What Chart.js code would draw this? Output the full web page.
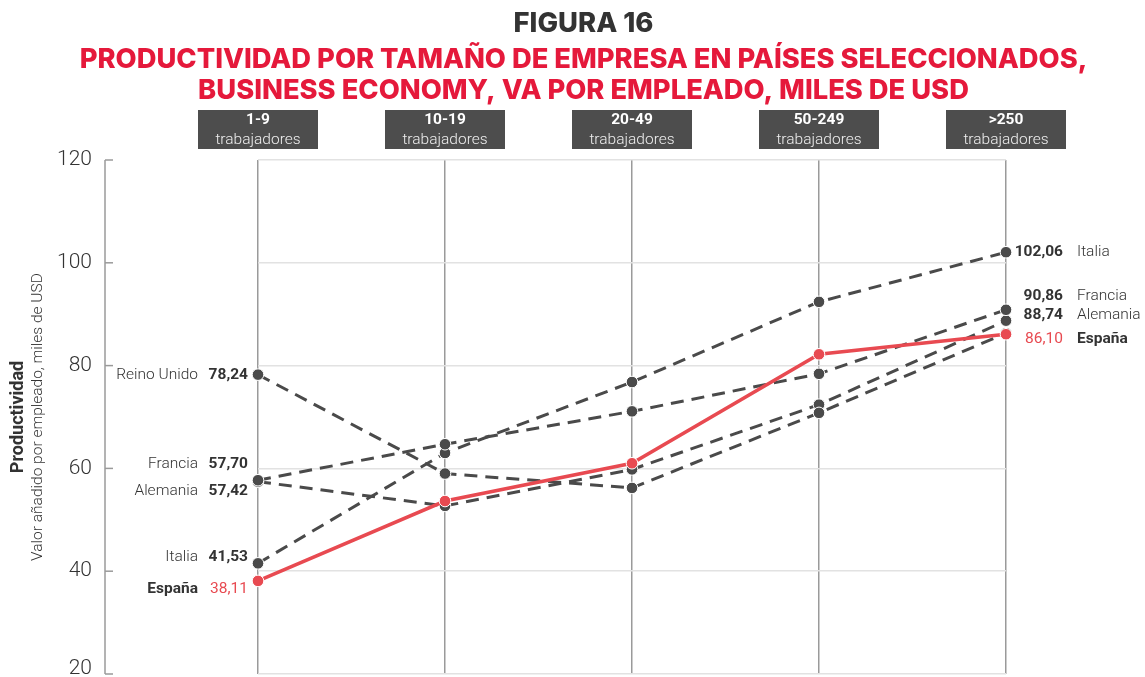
<!DOCTYPE html>
<html>
<head>
<meta charset="utf-8">
<script src="https://cdn.jsdelivr.net/npm/chart.js@4/dist/chart.umd.min.js"></script>
<style>
  html, body { margin: 0; padding: 0; background: #fff; }
  #wrap { width: 1145px; height: 677px; }
</style>
</head>
<body>
<div id="wrap"><canvas id="c" width="1145" height="677"></canvas></div>
<script>
// ---------- data ----------
const categories = ['1-9', '10-19', '20-49', '50-249', '>250'];
const categorySub = 'trabajadores';
const reinoUnido = [78.24, 59.0, 56.2, 70.8, 86.3];
const francia    = [57.70, 64.7, 71.1, 78.4, 90.86];
const alemania   = [57.42, 52.7, 59.8, 72.4, 88.74];
const italia     = [41.53, 63.0, 76.8, 92.4, 102.06];
const espana     = [38.11, 53.65, 61.0, 82.2, 86.10];
const yTicks     = [20, 40, 60, 80, 100, 120];
const titleText  = 'FIGURA 16';
const subtitleText = ['PRODUCTIVIDAD POR TAMAÑO DE EMPRESA EN PAÍSES SELECCIONADOS,',
                      'BUSINESS ECONOMY, VA POR EMPLEADO, MILES DE USD'];
const yTitle = 'Productividad';
const ySubtitle = 'Valor añadido por empleado, miles de USD';

// ---------- styles ----------
const GRAY = '#4a4a4a';
const RED = '#e84a51';
const TITLE_RED = '#e5193b';
const TEXT = '#333333';
const LIGHT = 'Roboto, "Liberation Sans", sans-serif';
const HEAVY = 'Inter, "DejaVu Sans", sans-serif';

function fitSize(text, weight, family, target) {
  const ctx = document.createElement('canvas').getContext('2d');
  ctx.font = weight + ' 100px ' + family;
  return 100 * target / ctx.measureText(text).width;
}
const subSize = Math.min(fitSize(subtitleText[0], 800, HEAVY, 1008), 30);
const titleSize = Math.min(fitSize(titleText, 800, HEAVY, 140), 30);

const fmt = v => v.toFixed(2).replace('.', ',');

// label placement (pixel nudges to avoid overlaps)
const labelCfg = {
  'Reino Unido': { left: 0 },
  'Francia':     { left: -16, right: -14 },
  'Alemania':    { left: 9,   right: -6 },
  'Italia':      { left: -6,  right: 0 },
  'España':      { left: 8,   right: 5, bold: true, red: true }
};

const decorPlugin = {
  id: 'decor',
  afterDraw(chart) {
    const ctx = chart.ctx;
    const xs = chart.scales.x, ys = chart.scales.y;
    const ca = chart.chartArea;
    ctx.save();
    // left axis
    const ax = 105;
    ctx.strokeStyle = '#9a9a9a';
    ctx.lineWidth = 1.5;
    ctx.beginPath();
    ctx.moveTo(ax, ys.getPixelForValue(120));
    ctx.lineTo(ax, ys.getPixelForValue(20));
    ctx.stroke();
    ctx.fillStyle = TEXT;
    ctx.font = '300 21px ' + LIGHT;
    ctx.textAlign = 'right';
    ctx.textBaseline = 'middle';
    yTicks.forEach(t => {
      const y = ys.getPixelForValue(t);
      ctx.beginPath();
      ctx.moveTo(ax, y);
      ctx.lineTo(ax + 8, y);
      ctx.stroke();
      ctx.fillText(String(t), 92, Math.min(y, 669));
    });
    // y titles
    const midY = (ys.getPixelForValue(120) + ys.getPixelForValue(20)) / 2;
    ctx.save();
    ctx.translate(18, midY);
    ctx.rotate(-Math.PI / 2);
    ctx.textAlign = 'center';
    ctx.font = 'bold 18px ' + LIGHT;
    ctx.fillStyle = TEXT;
    ctx.fillText(yTitle, 0, 0);
    ctx.restore();
    ctx.save();
    ctx.translate(38, midY);
    ctx.rotate(-Math.PI / 2);
    ctx.textAlign = 'center';
    ctx.font = '300 15.5px ' + LIGHT;
    ctx.fillStyle = TEXT;
    ctx.fillText(ySubtitle, 0, 0);
    ctx.restore();
    // category boxes
    categories.forEach((c, i) => {
      const x = xs.getPixelForValue(i);
      ctx.fillStyle = '#4d4d4d';
      ctx.fillRect(x - 60, ca.top - 50, 120, 39);
      ctx.textAlign = 'center';
      ctx.fillStyle = '#ffffff';
      ctx.font = 'bold 15.5px ' + LIGHT;
      ctx.fillText(c, x, ca.top - 40);
      ctx.fillStyle = '#eeeeee';
      ctx.font = '300 15.5px ' + LIGHT;
      ctx.fillText(categorySub, x, ca.top - 20);
    });
    // series end labels
    chart.data.datasets.forEach(ds => {
      const cfg = labelCfg[ds.label];
      if (!cfg) return;
      const first = ds.data[0], last = ds.data[ds.data.length - 1];
      if (cfg.left !== undefined) {
        const y = ys.getPixelForValue(first) + cfg.left;
        ctx.textAlign = 'right';
        ctx.font = (cfg.red ? '400' : 'bold') + ' 15.5px ' + LIGHT;
        ctx.fillStyle = cfg.red ? RED : TEXT;
        ctx.fillText(fmt(first), 248, y);
        ctx.font = (cfg.bold ? 'bold' : '300') + ' 15.5px ' + LIGHT;
        ctx.fillStyle = TEXT;
        ctx.fillText(ds.label, 198, y);
      }
      if (cfg.right !== undefined) {
        const y = ys.getPixelForValue(last) + cfg.right;
        ctx.textAlign = 'right';
        ctx.font = (cfg.red ? '400' : 'bold') + ' 15.5px ' + LIGHT;
        ctx.fillStyle = cfg.red ? RED : TEXT;
        ctx.fillText(fmt(last), 1063, y);
        ctx.textAlign = 'left';
        ctx.font = (cfg.bold ? 'bold' : '300') + ' 15.5px ' + LIGHT;
        ctx.fillStyle = TEXT;
        ctx.fillText(ds.label, 1077, y);
      }
    });
    ctx.restore();
  }
};

function dashed(label, data) {
  return {
    label, data, order: 1,
    borderColor: GRAY, borderWidth: 3, borderDash: [13, 8],
    pointRadius: 5.8, pointBackgroundColor: GRAY,
    pointBorderColor: '#ffffff', pointBorderWidth: 1,
    tension: 0, fill: false
  };
}

new Chart(document.getElementById('c'), {
  type: 'line',
  data: {
    labels: categories,
    datasets: [
      { label: 'España', data: espana, order: 0,
        borderColor: RED, borderWidth: 3.5,
        pointRadius: 5.8, pointBackgroundColor: RED,
        pointBorderColor: '#ffffff', pointBorderWidth: 1,
        tension: 0, fill: false },
      dashed('Reino Unido', reinoUnido),
      dashed('Francia', francia),
      dashed('Alemania', alemania),
      dashed('Italia', italia)
    ]
  },
  options: {
    responsive: false,
    animation: false,
    events: [],
    layout: { autoPadding: false, padding: { left: 22, right: 0, top: 0, bottom: 3 } },
    plugins: {
      legend: { display: false },
      tooltip: { enabled: false },
      title: {
        display: true, text: titleText, color: TEXT,
        font: { family: HEAVY, size: titleSize, weight: 800, lineHeight: '30px' },
        padding: { top: 9, bottom: 4 }
      },
      subtitle: {
        display: true, text: subtitleText, color: TITLE_RED,
        font: { family: HEAVY, size: subSize, weight: 800, lineHeight: '31px' },
        padding: { top: 1, bottom: 54 }
      }
    },
    scales: {
      x: {
        type: 'category', offset: false,
        grid: { color: '#9a9a9a', lineWidth: 1.5, drawTicks: false },
        border: { display: false },
        ticks: { display: false },
        afterFit: s => { s.height = 0; }
      },
      y: {
        min: 20, max: 120,
        grid: { color: '#e2e2e2', lineWidth: 1.5, drawTicks: false },
        border: { display: false },
        ticks: { display: false, stepSize: 20 },
        afterFit: s => { s.width = 236; }
      },
      y2: {
        position: 'right', min: 20, max: 120,
        grid: { display: false },
        border: { display: false },
        ticks: { display: false },
        afterFit: s => { s.width = 139; }
      }
    }
  },
  plugins: [decorPlugin]
});
</script>
</body>
</html>
